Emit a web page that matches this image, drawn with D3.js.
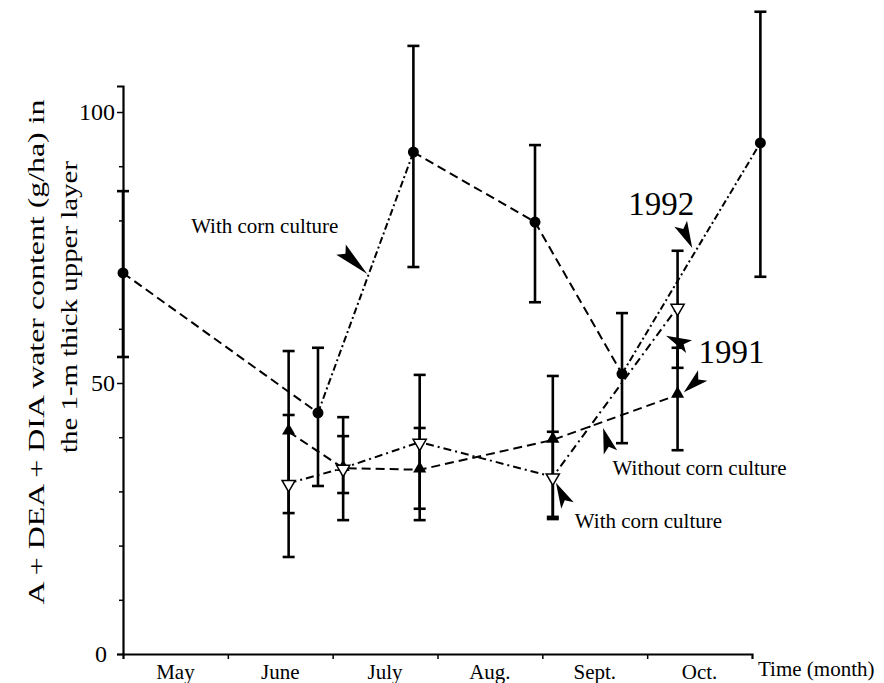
<!DOCTYPE html>
<html>
<head>
<meta charset="utf-8">
<script src="https://cdn.jsdelivr.net/npm/d3@7"></script>
<style>
  body { margin: 0; background: #fff; }
  svg, svg text { font-family: "Liberation Serif", "Times New Roman", Tinos, "DejaVu Serif", serif !important; }
  svg text { fill: #000; }
</style>
</head>
<body>
<div id="chart"></div>
<script>
const WIDTH = 884;
const HEIGHT = 683;
const SERIF = "'Liberation Serif', 'Times New Roman', Tinos, 'DejaVu Serif', serif";

// month labels, x values are month positions (0 = start of May)
const months = ["May", "June", "July", "Aug.", "Sept.", "Oct."];
const yTicks = [0, 10, 20, 30, 40, 50, 60, 70, 80, 90, 100];

// filled circles
const circX = [0.0, 1.86, 2.77, 3.93, 4.76, 6.08];
const circY = [70.3, 44.5, 92.6, 79.7, 51.7, 94.3];
const circLo = [54.8, 31.0, 71.4, 64.9, 38.9, 69.6];
const circHi = [85.4, 56.5, 112.2, 93.9, 62.9, 118.5];

// triangles (filled = 1991, open = 1992)
const triX = [1.58, 2.10, 2.83, 4.10, 5.29];
const fillY = [41.0, 34.3, 34.0, 39.5, 47.8];
const fillLo = [26.0, 24.7, 24.7, 25.3, 37.6];
const fillHi = [55.9, 43.7, 41.7, 51.3, 56.5];
const openY = [31.5, 34.3, 39.1, 32.7, 64.0];
const openLo = [17.9, 29.7, 26.8, 24.9, 52.8];
const openHi = [44.1, 40.2, 51.5, 41.0, 74.4];

// dash pattern of each segment of the circle line
const circDash = ["9,5", "7,3,2,3", "9,5", "9,5", "7,3,2,3"];

// annotations: text start (month, value), arrows tip/base (month, value)
const notes = [
    { text: "With corn culture", at: [0.65, 77.7], size: 21 },
    { text: "1992", at: [4.82, 81.0], size: 33 },
    { text: "1991", at: [5.49, 53.7], size: 33 },
    { text: "Without corn culture", at: [4.67, 33.0], size: 21 },
    { text: "With corn culture", at: [4.31, 23.2], size: 21 }
];
const arrows = [
    { tip: [2.33, 70.1], base: [2.08, 74.6] },
    { tip: [5.43, 74.9], base: [5.32, 79.4] },
    { tip: [5.18, 58.7], base: [5.40, 56.7] },
    { tip: [5.35, 48.3], base: [5.53, 51.4] },
    { tip: [4.58, 41.7], base: [4.65, 37.2] },
    { tip: [4.13, 31.6], base: [4.24, 27.4] }
];

const svg = d3.select("#chart")
    .append("svg")
    .attr("width", WIDTH)
    .attr("height", HEIGHT)
    .attr("font-family", SERIF);

const x = d3.scaleLinear().domain([0, 6]).range([123, 752]);
const y = d3.scaleLinear().domain([0, 104.8]).range([654, 86]);

// y axis
const yAxis = svg.append("g")
    .attr("transform", `translate(${x(0)},0)`)
    .call(d3.axisLeft(y)
        .tickValues(yTicks)
        .tickSizeOuter(0)
        .tickSize(6)
        .tickFormat(d => (d % 50 == 0) ? d : ""));
yAxis.attr("font-family", SERIF);
yAxis.selectAll(".tick line")
    .attr("x2", d => (d % 50 == 0) ? -6 : -4)
    .attr("stroke-width", 1.5);
yAxis.select(".domain").attr("stroke-width", 2.2);
yAxis.selectAll(".tick text")
    .attr("font-size", 24)
    .attr("x", d => d == 0 ? -16 : -8);

// x axis
const xAxis = svg.append("g")
    .attr("transform", `translate(0,${y(0)})`)
    .call(d3.axisBottom(x)
        .tickValues([1, 2, 3, 4, 5])
        .tickSizeOuter(0)
        .tickSize(5)
        .tickFormat(""));
xAxis.select(".domain").attr("stroke-width", 2.2);
xAxis.selectAll(".tick line").attr("stroke-width", 1.5);

svg.append("g")
    .selectAll("text")
    .data(months)
    .join("text")
    .attr("x", (d, i) => x(i + 0.5))
    .attr("y", 679)
    .attr("text-anchor", "middle")
    .attr("font-size", 21)
    .text(d => d);

svg.append("text")
    .attr("x", 758)
    .attr("y", 676)
    .attr("font-size", 21)
    .text("Time (month)");

// y title, two lines
svg.append("text")
    .attr("transform", `translate(44,352) rotate(-90)`)
    .attr("text-anchor", "middle")
    .attr("font-size", 24)
    .attr("textLength", 505)
    .attr("lengthAdjust", "spacingAndGlyphs")
    .text("A + DEA + DIA water content (g/ha) in");
svg.append("text")
    .attr("transform", `translate(77,307) rotate(-90)`)
    .attr("text-anchor", "middle")
    .attr("font-size", 24)
    .attr("textLength", 292)
    .attr("lengthAdjust", "spacingAndGlyphs")
    .text("the 1-m thick upper layer");

const plot = svg.append("g");

// lines
const seg = (xs, ys) => d3.pairs(d3.range(xs.length)).map(([a, b]) => [[x(xs[a]), y(ys[a])], [x(xs[b]), y(ys[b])]]);

plot.selectAll(".circ_seg")
    .data(seg(circX, circY))
    .join("path")
    .attr("class", "circ_seg")
    .attr("d", d => d3.line()(d))
    .attr("fill", "none")
    .attr("stroke", "#000")
    .attr("stroke-width", 2)
    .attr("stroke-dasharray", (d, i) => circDash[i]);

plot.append("path")
    .attr("d", d3.line()(triX.map((v, i) => [x(v), y(fillY[i])])))
    .attr("fill", "none")
    .attr("stroke", "#000")
    .attr("stroke-width", 2)
    .attr("stroke-dasharray", "9,5");

plot.append("path")
    .attr("d", d3.line()(triX.map((v, i) => [x(v), y(openY[i])])))
    .attr("fill", "none")
    .attr("stroke", "#000")
    .attr("stroke-width", 2)
    .attr("stroke-dasharray", "8,4,2,4");

// error bars
function errorBars(xs, lo, hi) {
    const g = plot.append("g").attr("stroke", "#000");
    g.selectAll(".bar")
        .data(xs)
        .join("line")
        .attr("x1", d => x(d)).attr("x2", d => x(d))
        .attr("y1", (d, i) => y(lo[i])).attr("y2", (d, i) => y(hi[i]))
        .attr("stroke-width", 2.6);
    [lo, hi].forEach(arr => {
        g.append("g").selectAll("line")
            .data(xs)
            .join("line")
            .attr("x1", d => x(d) - 6).attr("x2", d => x(d) + 6)
            .attr("y1", (d, i) => y(arr[i])).attr("y2", (d, i) => y(arr[i]))
            .attr("stroke-width", 2.6);
    });
}
errorBars(circX, circLo, circHi);
errorBars(triX, fillLo, fillHi);
errorBars(triX, openLo, openHi);

// markers
plot.append("g")
    .selectAll("circle")
    .data(circX)
    .join("circle")
    .attr("cx", d => x(d))
    .attr("cy", (d, i) => y(circY[i]))
    .attr("r", 5.5)
    .attr("fill", "#000");

const tri = d3.symbol(d3.symbolTriangle, 75);
plot.append("g")
    .selectAll("path")
    .data(triX)
    .join("path")
    .attr("d", tri)
    .attr("transform", (d, i) => `translate(${x(d)},${y(fillY[i]) - 1})`)
    .attr("fill", "#000");
plot.append("g")
    .selectAll("path")
    .data(triX)
    .join("path")
    .attr("d", tri)
    .attr("transform", (d, i) => `translate(${x(d)},${y(openY[i]) + 1}) rotate(180)`)
    .attr("fill", "#fff")
    .attr("stroke", "#000")
    .attr("stroke-width", 1.5);

// annotations
svg.append("g")
    .selectAll("text")
    .data(notes)
    .join("text")
    .attr("x", d => x(d.at[0]))
    .attr("y", d => y(d.at[1]))
    .attr("font-size", d => d.size)
    .text(d => d.text);

function dart(d) {
    const tx = x(d.tip[0]), ty = y(d.tip[1]);
    const bx = x(d.base[0]), by = y(d.base[1]);
    const len = Math.hypot(tx - bx, ty - by);
    const ux = (tx - bx) / len, uy = (ty - by) / len;
    const nx = -uy, ny = ux, w = 7;
    const p = [
        [tx, ty],
        [bx + nx * w, by + ny * w],
        [bx + ux * 6, by + uy * 6],
        [bx - nx * w, by - ny * w]
    ];
    return "M" + p.map(q => q.join(",")).join("L") + "Z";
}
svg.append("g")
    .selectAll("path")
    .data(arrows)
    .join("path")
    .attr("d", dart)
    .attr("fill", "#000");
</script>
</body>
</html>
